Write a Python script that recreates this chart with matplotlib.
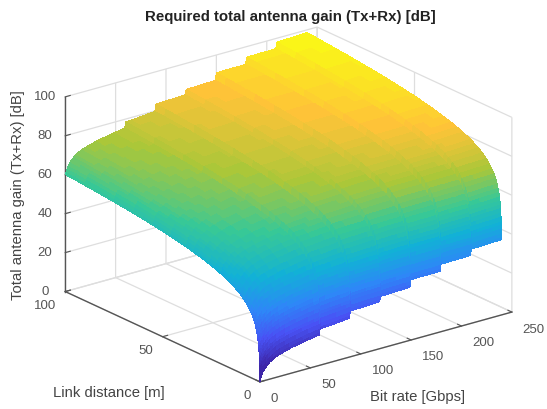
import numpy as np
import matplotlib
matplotlib.use("Agg")
import matplotlib.pyplot as plt
from matplotlib.colors import LinearSegmentedColormap
from matplotlib.transforms import Affine2D

plt.rcParams['font.family'] = ['Liberation Sans', 'DejaVu Sans']

bit_rates = [0.2, 0.5, 1, 2, 3, 4.5, 6, 8, 10, 13, 16, 20, 25, 29, 30, 36, 42, 48, 54, 59, 60,
             65, 70, 75, 80, 85, 89, 90, 95, 100, 105, 110, 115, 119, 120, 125, 130, 135, 140, 145, 149,
             150, 155, 160, 165, 170, 175, 179, 180, 185, 190, 195, 200, 205, 209, 210, 215, 220, 225, 230, 235, 240]
gain_at_shortest = [0, 0.5, 1.5, 3, 4.5, 5.5, 6.5, 7.7, 8.6, 9.6, 10.4, 11.2, 12, 12.5, 12.8, 13.4, 14, 14.6, 15.1, 15.5,
                    18.5, 18.7, 18.9, 19.1, 19.4, 19.6, 19.8,
                    23.4, 23.5, 23.6, 23.7, 23.8, 23.9, 24,
                    26.6, 26.7, 26.8, 26.9, 27, 27, 27.1,
                    30.9, 30.9, 31, 31, 31, 31, 31.1,
                    34.6, 34.6, 34.7, 34.7, 34.7, 34.8, 34.8,
                    38, 38.1, 38.2, 38.3, 38.4, 38.5, 38.6]
distances = [0.1, 0.12, 0.15, 0.2, 0.25, 0.3, 0.4, 0.5, 0.65, 0.8, 1, 1.25, 1.6, 2, 2.5, 3.2, 4, 5, 6.3, 8,
             10, 12, 14, 16, 18, 20, 23, 26, 30, 34, 38, 42, 46, 50, 55, 60, 65, 70, 75, 80, 85, 90, 95, 100]
gain_rise = [0, 1.6, 3.5, 6, 8, 9.5, 12, 14, 16.3, 18, 20, 21.9, 24.1, 26, 28, 30.1, 32, 34, 36, 38,
             40, 41.6, 42.9, 44.1, 45.1, 46, 47.2, 48.3, 49.5, 50.6, 51.6, 52.5, 53.3, 54, 54.8, 55.6, 56.3, 56.9, 57.5, 58.1, 58.6, 59.1, 59.6, 60]
x_ticks = [0, 50, 100, 150, 200, 250]
y_ticks = [0, 50, 100]
z_ticks = [0, 20, 40, 60, 80, 100]

parula = LinearSegmentedColormap.from_list('parula', [
    (0.2422, 0.1504, 0.6603), (0.2810, 0.3228, 0.9579), (0.1786, 0.5289, 0.9682),
    (0.0689, 0.6948, 0.8394), (0.2161, 0.7843, 0.5923), (0.6720, 0.7793, 0.2227),
    (0.9970, 0.7659, 0.2199), (0.9769, 0.9839, 0.0805)], N=64)

R, D = np.meshgrid(bit_rates, distances)
Z = np.add.outer(np.array(gain_rise), np.array(gain_at_shortest))

fig = plt.figure(figsize=(5.47, 4.10), dpi=100)
ax = fig.add_axes([(283 - 205) / 547, (199 - 205) / 410, 410 / 547, 1.0], projection='3d')
ax.set_proj_type('ortho')
ax.view_init(elev=21, azim=-127.7)
ax.set_box_aspect((1, 1, 0.655), zoom=1.175)
ax.patch.set_alpha(0)

surf = ax.plot_surface(R, D, Z, cmap=parula, vmin=8, vmax=100, rstride=1, cstride=1,
                       linewidth=0, antialiased=False, shade=False)
surf.set_clip_on(False)

ax.set_xlim(0, 250)
ax.set_ylim(0, 100)
ax.set_zlim(0, 100)
ax.set_xticks(x_ticks)
ax.set_yticks(y_ticks)
ax.set_zticks(z_ticks)

for a in (ax.xaxis, ax.yaxis, ax.zaxis):
    a.set_pane_color((1, 1, 1, 0))
    a.pane.set_edgecolor('#dddddd')
    a._axinfo['grid'].update(color='#dedede', linewidth=0.9)
    a._axinfo['tick'].update(inward_factor=0.0, outward_factor=0.25)
    a.line.set_color('#555555')
    a.line.set_linewidth(1.0)
ax.tick_params(colors='#555555', labelsize=9.5)
ax.tick_params(axis='x', pad=-1)
ax.tick_params(axis='y', pad=-1)
ax.tick_params(axis='z', pad=-1)


def nudge(axis, dx, dy, **props):
    # Axis3D resets the label transform when it fetches its ticks, so reapply the offset there.
    original = axis.get_major_ticks

    def shifted(numticks=None):
        ticks = original(numticks)
        for tick in ticks:
            tick.label1.set(**props)
            tick.label1.set_transform(ax.transData + Affine2D().translate(dx, dy))
        return ticks

    axis.get_major_ticks = shifted


nudge(ax.xaxis, 2, 2.5, ha='left')
nudge(ax.yaxis, 2, 5, ha='right')
nudge(ax.zaxis, 0, 6)

label_color = '#444444'
fig.text(418 / 547, 1 - 397 / 410, 'Bit rate [Gbps]', fontsize=10.7, color=label_color, ha='center', va='center')
fig.text(109 / 547, 1 - 393 / 410, 'Link distance [m]', fontsize=10.7, color=label_color, ha='center', va='center')
fig.text(18 / 547, 1 - 195 / 410, 'Total antenna gain (Tx+Rx) [dB]', fontsize=10.7, color=label_color,
         rotation=90, ha='center', va='center')
fig.text(290 / 547, 1 - 17 / 410, 'Required total antenna gain (Tx+Rx) [dB]', ha='center', va='center',
         fontsize=10.8, fontweight='bold', color='#222222')

fig.savefig('out.png', dpi=100)
